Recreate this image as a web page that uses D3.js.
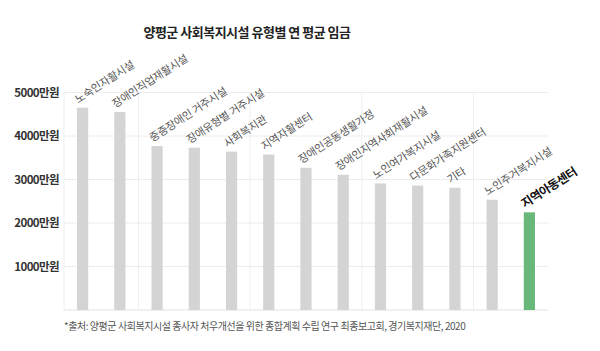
<!DOCTYPE html>
<html><head><meta charset="utf-8">
<script src="https://cdn.jsdelivr.net/npm/d3@7"></script>
<style>
html,body{margin:0;padding:0;background:#fff;}
svg{display:block;font-family:"Noto Sans CJK KR","Noto Sans",sans-serif;}
</style></head>
<body><svg id="c" width="600" height="351"></svg>
<script>
const categories = ["노숙인자활시설","장애인직업재활시설","중증장애인 거주시설","장애유형별 거주시설","사회복지관","지역자활센터","장애인공동생활가정","장애인지역사회재활시설","노인여가복지시설","다문화가족지원센터","기타","노인주거복지시설","지역아동센터"];
const values = [4650,4550,3770,3730,3640,3575,3270,3110,2910,2860,2810,2535,2245];
const yTicks = [1000,2000,3000,4000,5000];
const tickSuffix = "만원";
const highlight = "지역아동센터";
const title = "양평군 사회복지시설 유형별 연 평균 임금";
const source = "*출처: 양평군 사회복지시설 종사자 처우개선을 위한 종합계획 수립 연구 최종보고회, 경기복지재단, 2020";

const svg = d3.select("#c");
const pLeft = 64, pRight = 548, pTop = 92.5, pBottom = 310;
const x = d3.scaleBand().domain(categories).range([pLeft, pRight]).paddingInner(0.7).paddingOuter(0.35);
const y = d3.scaleLinear().domain([0, 5000]).range([pBottom, pTop]);

// horizontal grid
svg.append("g").selectAll("line").data(yTicks).join("line")
  .attr("x1", pLeft).attr("x2", pRight)
  .attr("y1", d => y(d)).attr("y2", d => y(d))
  .attr("stroke", "#ececec").attr("stroke-width", 1);
// vertical grid
const step = (pRight - pLeft) / categories.length;
svg.append("g").selectAll("line").data([0, 2, 5, 8, 11]).join("line")
  .attr("x1", d => pLeft + d * step).attr("x2", d => pLeft + d * step)
  .attr("y1", pTop).attr("y2", pBottom)
  .attr("stroke", "#efefef").attr("stroke-width", 1);
// baseline
svg.append("line").attr("x1", pLeft).attr("x2", pRight).attr("y1", pBottom).attr("y2", pBottom)
  .attr("stroke", "#e2e2e2");

// y axis
const yAxis = d3.axisLeft(y).tickValues(yTicks).tickSize(0).tickPadding(5)
  .tickFormat(d => d + tickSuffix);
const ya = svg.append("g").attr("transform", `translate(${pLeft},0)`).call(yAxis);
ya.select(".domain").remove();
ya.selectAll("text").attr("font-size", 11.5).attr("font-weight", "bold")
  .attr("fill", "#333").attr("letter-spacing", -0.6)
  .attr("font-family", "'Noto Sans CJK KR',sans-serif");

// bars
svg.append("g").selectAll("rect").data(categories).join("rect")
  .attr("x", d => x(d)).attr("width", x.bandwidth())
  .attr("y", (d, i) => y(values[i])).attr("height", (d, i) => pBottom - y(values[i]))
  .attr("fill", d => d === highlight ? "#68b87a" : "#d4d4d4");

// bar labels
svg.append("g").selectAll("text").data(categories).join("text")
  .attr("transform", (d, i) => `translate(${x(d) + 1},${y(values[i]) - 4}) rotate(-33)`)
  .attr("font-size", d => d === highlight ? 12 : 10.8)
  .attr("font-weight", d => d === highlight ? "bold" : "normal")
  .attr("fill", d => d === highlight ? "#111" : "#555")
  .attr("letter-spacing", d => d === highlight ? -0.5 : -0.2)
  .text(d => d);

// title
svg.append("text").attr("x", 247).attr("y", 37).attr("text-anchor", "middle")
  .attr("font-size", 13).attr("font-weight", "bold").attr("fill", "#222")
  .attr("letter-spacing", -0.5).text(title);

// source
svg.append("text").attr("x", pLeft).attr("y", 330)
  .attr("font-size", 10).attr("fill", "#555").attr("letter-spacing", -0.45).text(source);
</script></body></html>
